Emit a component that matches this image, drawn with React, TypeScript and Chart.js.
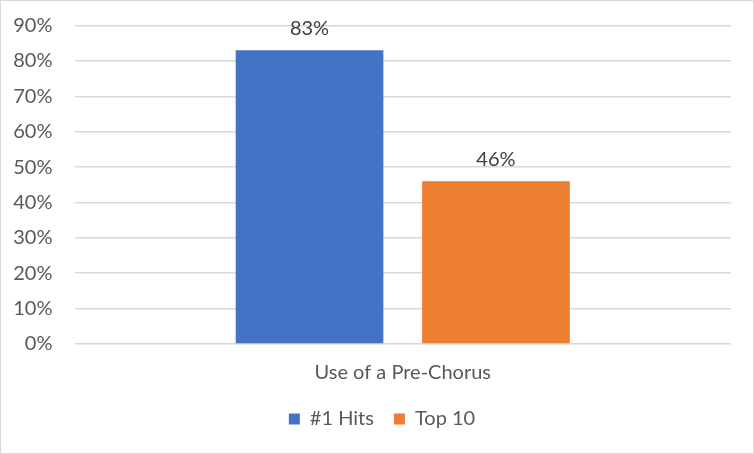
import React, { useEffect, useRef } from "react";
import { Chart, registerables } from "chart.js";

Chart.register(...registerables);

const categories = ["Use of a Pre-Chorus"];
const seriesNames = ["#1 Hits", "Top 10"];
const hitsValues = [0.83];
const top10Values = [0.46];
const seriesColors = ["#4472C4", "#ED7D31"];

const FONT = "Lato, 'Liberation Sans', sans-serif";

const dataLabelPlugin = {
  id: "dataLabels",
  afterDatasetsDraw(chart: any) {
    const ctx = chart.ctx;
    ctx.save();
    ctx.font = `20px ${FONT}`;
    ctx.fillStyle = "#404040";
    ctx.textAlign = "center";
    ctx.textBaseline = "alphabetic";
    chart.data.datasets.forEach((ds: any, i: number) => {
      const meta = chart.getDatasetMeta(i);
      meta.data.forEach((el: any, j: number) => {
        const v = ds.data[j];
        ctx.fillText(Math.round(v * 100) + "%", el.x, el.y - 15);
      });
    });
    ctx.restore();
  },
};

// Centre the legend like Excel does (Chart.js counts a trailing padding).
const legendCenterPlugin = {
  id: "legendCenter",
  afterLayout(chart: any) {
    const lg = chart.legend;
    if (!lg) return;
    const shift = 16;
    lg.left += shift;
    lg.right += shift;
  },
};

export default function App() {
  const ref = useRef<HTMLCanvasElement>(null);
  useEffect(() => {
    document.body.style.margin = "0";
    const chart = new Chart(ref.current!, {
      type: "bar",
      data: {
        labels: categories,
        datasets: [
          {
            label: seriesNames[0],
            data: hitsValues,
            backgroundColor: seriesColors[0],
            categoryPercentage: 0.568,
            barPercentage: 0.792,
          },
          {
            label: seriesNames[1],
            data: top10Values,
            backgroundColor: seriesColors[1],
            categoryPercentage: 0.568,
            barPercentage: 0.792,
          },
        ],
      },
      options: {
        animation: false,
        responsive: false,
        maintainAspectRatio: false,
        layout: { padding: { top: 24.5, left: 0, right: 21, bottom: 13 } },
        scales: {
          y: {
            min: 0,
            max: 0.9,
            afterFit: (s: any) => {
              s.width = 73.5;
              s.paddingTop = 0;
              s.paddingBottom = 0;
            },
            ticks: {
              stepSize: 0.1,
              color: "#595959",
              font: { family: FONT, size: 20 },
              padding: 22,
              callback: (v: any) => Math.round(Number(v) * 100) + "%",
            },
            grid: { color: "#d9d9d9", lineWidth: 1.5, drawTicks: false },
            border: { display: false },
          },
          x: {
            afterFit: (s: any) => {
              s.height = 45;
            },
            ticks: {
              color: "#595959",
              font: { family: FONT, size: 20 },
              padding: 17,
            },
            grid: { display: false, drawTicks: false },
            border: { display: false },
          },
        },
        plugins: {
          legend: {
            position: "bottom",
            labels: {
              color: "#595959",
              font: { family: FONT, size: 20 },
              boxWidth: 11,
              boxHeight: 11,
              padding: 20,
            },
          },
          tooltip: { enabled: false },
        },
      },
      plugins: [dataLabelPlugin, legendCenterPlugin],
    });
    return () => chart.destroy();
  }, []);
  return (
    <div
      style={{
        position: "absolute",
        left: 0,
        top: 0,
        width: 754,
        height: 454,
        boxSizing: "border-box",
        border: "1.5px solid #d9d9d9",
        background: "#fff",
      }}
    >
      <canvas ref={ref} width={751} height={451} style={{ display: "block" }} />
    </div>
  );
}
